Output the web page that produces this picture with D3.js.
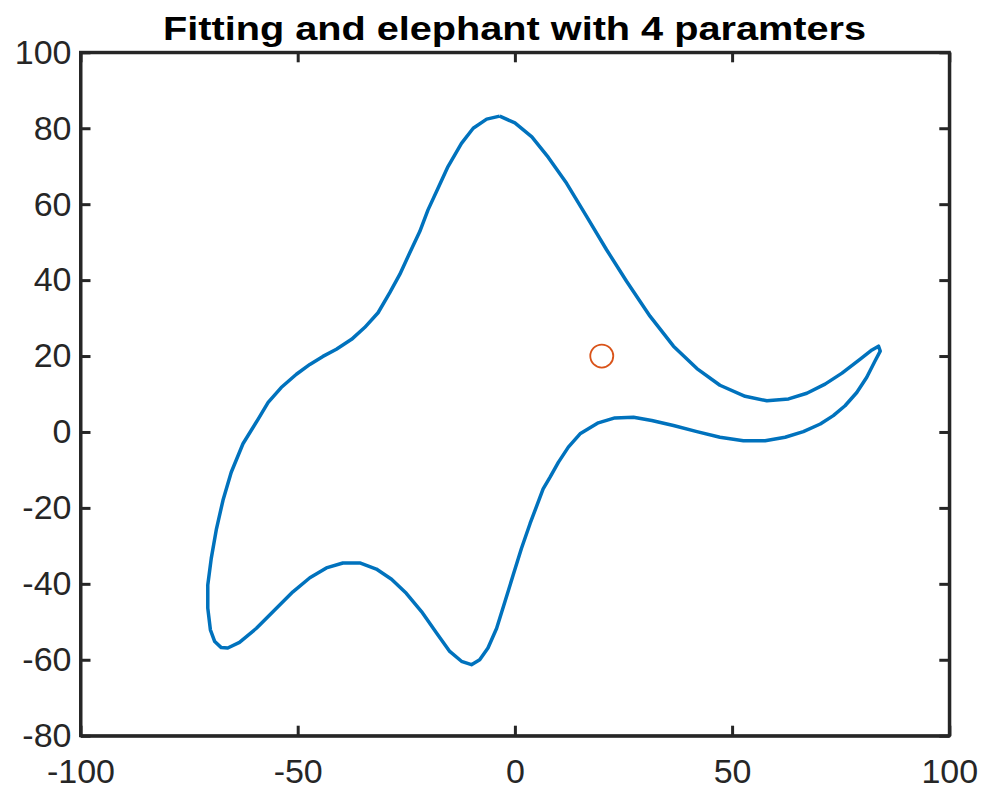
<!DOCTYPE html>
<html>
<head>
<meta charset="utf-8">
<script src="https://cdn.jsdelivr.net/npm/d3@7"></script>
<style>
  body { margin: 0; background: #fff; }
  svg text { font-family: "Liberation Sans", Arial, Helvetica, sans-serif; }
</style>
</head>
<body>
<div id="graph"></div>
<script>
// elephant outline (x, y in data units)
const outlineX = [-3.5, 0, 3.9, 7.7, 11.9, 16.5, 21.1, 25.7, 31.1, 36.5, 41.9, 47.2, 53.0, 58.0, 63.0, 67.2, 71.4, 75.3, 79.5, 82.2,
  83.7, 84.1, 82.9, 81.0, 78.7, 76.0, 73.3, 70.3, 66.4, 62.2, 57.6, 52.6, 47.2, 41.9, 36.5, 31.5, 27.3, 23.0, 19.2, 15.0,
  12.3, 10.0, 8.1, 6.5, 3.5, 1.5, -0.4, -2.3, -4.2, -6.2, -8.1, -10.0, -12.3, -15.0, -18.0, -21.5, -25.0, -28.4, -31.9, -35.7,
  -39.6, -43.4, -47.2, -51.1, -55.3, -59.5, -63.4, -66.1, -67.6, -69.1, -70.1, -70.7, -70.7, -69.9, -68.7, -67.2, -65.3, -62.6, -59.1, -56.8,
  -53.8, -50.3, -47.2, -44.2, -41.1, -37.6, -34.6, -31.5, -28.8, -26.5, -24.2, -21.9, -20.0, -17.7, -15.4, -12.3, -9.6, -6.5, -3.5];
const outlineY = [83.2, 81.4, 77.7, 72.3, 65.5, 56.8, 48.0, 39.7, 30.5, 22.6, 16.7, 12.3, 9.4, 8.2, 8.7, 10.2, 12.6, 15.5, 19.2, 21.6,
  22.6, 21.3, 18.7, 14.4, 10.4, 6.9, 4.3, 2.1, 0.1, -1.4, -2.3, -2.3, -1.4, 0.1, 1.7, 3.0, 3.9, 3.7, 2.4, -0.5,
  -4.0, -8.0, -11.9, -15.0, -24.1, -30.7, -37.7, -44.7, -51.7, -56.9, -60.0, -61.3, -60.4, -57.8, -53.0, -47.3, -42.5, -38.8, -36.1, -34.5,
  -34.5, -35.8, -38.4, -42.1, -46.9, -51.7, -55.4, -56.9, -56.8, -55.2, -52.1, -46.4, -40.3, -33.3, -25.5, -18.0, -10.6, -3.1, 3.4, 7.8,
  11.7, 15.2, 17.8, 19.9, 21.8, 24.4, 27.5, 31.4, 36.7, 41.5, 47.2, 52.8, 58.5, 64.2, 69.9, 76.0, 80.0, 82.4, 83.2];

// the eye
const eyeX = [20];
const eyeY = [20];

const xTicks = [-100, -50, 0, 50, 100];
const yTicks = [-80, -60, -40, -20, 0, 20, 40, 60, 80, 100];
const title = "Fitting and elephant with 4 paramters";

const w = 983, h = 790;
const mLeft = 80.5, mRight = 949.3, mTop = 52.3, mBottom = 735.7;
const axisColor = "#262626";

const xScale = d3.scaleLinear().domain([-100, 100]).range([mLeft, mRight]);
const yScale = d3.scaleLinear().domain([-80, 100]).range([mBottom, mTop]);

const svg = d3.select("#graph")
              .append("svg")
              .attr("width", w)
              .attr("height", h);

const points = outlineX.map((x, i) => [x, outlineY[i]]);

const line = d3.line()
               .x(d => xScale(d[0]))
               .y(d => yScale(d[1]));

svg.append("path")
   .datum(points)
   .attr("d", line)
   .attr("fill", "none")
   .attr("stroke", "#0072BD")
   .attr("stroke-width", 3.5)
   .attr("stroke-linejoin", "round");

svg.selectAll("circle.eye")
   .data(eyeX.map((x, i) => [x, eyeY[i]]))
   .enter()
   .append("circle")
   .attr("class", "eye")
   .attr("cx", d => xScale(d[0]))
   .attr("cy", d => yScale(d[1]))
   .attr("r", 11.5)
   .attr("fill", "none")
   .attr("stroke", "#D95319")
   .attr("stroke-width", 1.8);

function styleAxis(g) {
  g.select(".domain").attr("stroke", axisColor).attr("stroke-width", 3);
  g.selectAll(".tick line").attr("stroke", axisColor).attr("stroke-width", 3);
  g.selectAll(".tick text")
   .attr("fill", axisColor)
   .style("font-size", "34px");
  g.attr("font-family", null).attr("font-size", null);
}

svg.append("g")
   .attr("transform", `translate(0, ${mBottom})`)
   .call(d3.axisBottom(xScale).tickValues(xTicks).tickFormat(d => d)
           .tickSizeInner(-10).tickSizeOuter(0).tickPadding(23))
   .call(styleAxis);

svg.append("g")
   .attr("transform", `translate(0, ${mTop})`)
   .call(d3.axisTop(xScale).tickValues(xTicks).tickFormat("")
           .tickSizeInner(-10).tickSizeOuter(0))
   .call(styleAxis);

svg.append("g")
   .attr("transform", `translate(${mLeft}, 0)`)
   .call(d3.axisLeft(yScale).tickValues(yTicks).tickFormat(d => d)
           .tickSizeInner(-10).tickSizeOuter(0).tickPadding(9))
   .call(styleAxis);

svg.append("g")
   .attr("transform", `translate(${mRight}, 0)`)
   .call(d3.axisRight(yScale).tickValues(yTicks).tickFormat("")
           .tickSizeInner(-10).tickSizeOuter(0))
   .call(styleAxis);

// square corners on the box
svg.append("rect")
   .attr("x", mLeft)
   .attr("y", mTop)
   .attr("width", mRight - mLeft)
   .attr("height", mBottom - mTop)
   .attr("fill", "none")
   .attr("stroke", axisColor)
   .attr("stroke-width", 3);

// title is wider in the original face, so stretch it to the same span
svg.append("text")
   .attr("x", 514.5)
   .attr("y", 39.5)
   .attr("text-anchor", "middle")
   .attr("textLength", 703)
   .attr("lengthAdjust", "spacingAndGlyphs")
   .style("font-size", "34px")
   .style("font-weight", "bold")
   .attr("fill", "#000")
   .text(title);
</script>
</body>
</html>
